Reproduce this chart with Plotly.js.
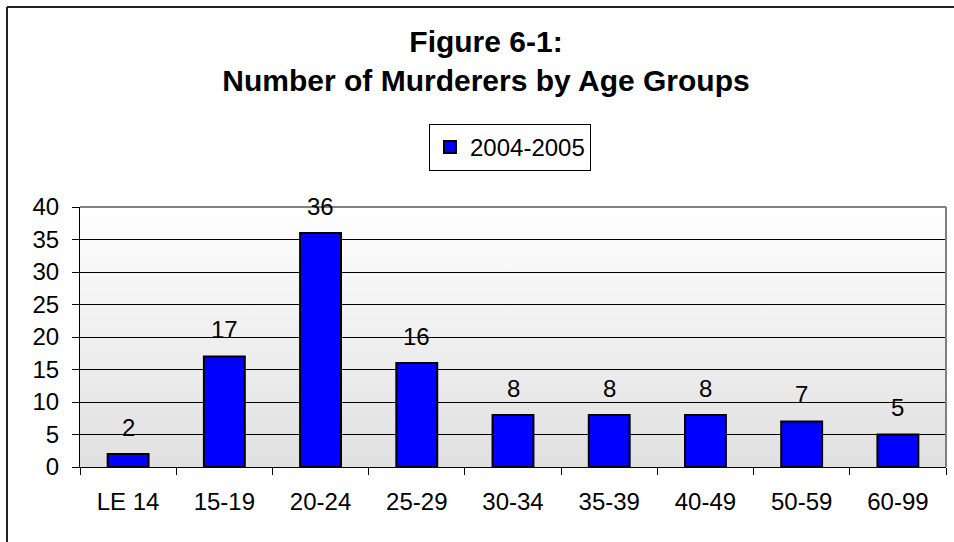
<!DOCTYPE html>
<html>
<head>
<meta charset="utf-8">
<script src="https://cdn.plot.ly/plotly-3.0.1.min.js"></script>
<style>html,body{margin:0;padding:0;background:#fff;}#chart{width:954px;height:542px;}</style>
</head>
<body>
<div id="chart"></div>
<script>
var categories = ["LE 14", "15-19", "20-24", "25-29", "30-34", "35-39", "40-49", "50-59", "60-99"];
var murderers = [2, 17, 36, 16, 8, 8, 8, 7, 5];
var seriesName = "2004-2005";
var yTicks = [0, 5, 10, 15, 20, 25, 30, 35, 40];

var FONT = "Arial, 'Liberation Sans', sans-serif";
var W = 954, H = 542;
var L = 80, R = 946, T = 207, B = 467;

var svg = '<svg xmlns="http://www.w3.org/2000/svg" width="100" height="100" preserveAspectRatio="none">' +
  '<defs><linearGradient id="g" x1="0" y1="0" x2="0" y2="1">' +
  '<stop offset="0" stop-color="#ffffff"/><stop offset="1" stop-color="#e0e0e0"/>' +
  '</linearGradient></defs><rect width="100" height="100" fill="url(#g)"/></svg>';
var bgURI = 'data:image/svg+xml;base64,' + btoa(svg);

var annotations = categories.map(function (c, i) {
  return {
    x: c, y: murderers[i], xref: 'x', yref: 'y',
    text: String(murderers[i]), showarrow: false,
    yanchor: 'middle', yshift: 27,
    font: {family: FONT, size: 24, color: '#000'}
  };
});

var data = [{
  type: 'bar',
  x: categories,
  y: murderers,
  name: seriesName,
  marker: {color: '#0000ff', line: {color: '#000000', width: 2}},
  hoverinfo: 'x+y'
}];

var pw = R - L, ph = B - T;
var layout = {
  width: W, height: H,
  margin: {l: L, r: W - R, t: T, b: H - B, pad: 0},
  paper_bgcolor: '#ffffff',
  plot_bgcolor: 'rgba(0,0,0,0)',
  font: {family: FONT, size: 24, color: '#000'},
  title: {
    text: '<b>Figure 6-1:</b><br><b>Number of Murderers by Age Groups</b>',
    font: {family: FONT, size: 30, color: '#000'},
    xref: 'container', x: 486 / W, xanchor: 'center',
    yref: 'container', y: 1 - 52 / H, yanchor: 'top'
  },
  showlegend: true,
  legend: {
    orientation: 'h',
    x: (510 - L) / pw, xanchor: 'center',
    y: (B - 124) / ph, yanchor: 'top',
    bgcolor: '#ffffff', bordercolor: '#000000', borderwidth: 1,
    font: {family: FONT, size: 24, color: '#000'},
    itemwidth: 30
  },
  bargap: 0.575,
  xaxis: {
    type: 'category',
    showgrid: false,
    showline: true, linecolor: '#000', linewidth: 1,
    ticks: 'outside', tickson: 'boundaries', ticklen: 7, tickcolor: '#000', tickwidth: 1,
    tickfont: {family: FONT, size: 24, color: '#000'},
    ticklabelstandoff: 13,
    fixedrange: true
  },
  yaxis: {
    range: [0, 40],
    tickvals: yTicks,
    showgrid: true, gridcolor: '#000', gridwidth: 1,
    zeroline: false,
    showline: true, linecolor: '#000', linewidth: 1,
    ticks: 'outside', ticklen: 7, tickcolor: '#000', tickwidth: 1,
    tickfont: {family: FONT, size: 24, color: '#000'},
    ticklabelstandoff: 8,
    fixedrange: true
  },
  images: [{
    source: bgURI, xref: 'paper', yref: 'paper',
    x: 0, y: 1, sizex: 1, sizey: 1, sizing: 'stretch',
    xanchor: 'left', yanchor: 'top', layer: 'below'
  }],
  shapes: [
    {type: 'line', xref: 'paper', yref: 'paper', x0: 0, x1: 1, y0: 1, y1: 1,
     line: {color: '#808080', width: 2}, layer: 'above'},
    {type: 'line', xref: 'paper', yref: 'paper', x0: 1, x1: 1, y0: 0, y1: 1,
     line: {color: '#808080', width: 2}, layer: 'above'},
    {type: 'line', xref: 'paper', yref: 'paper',
     x0: (7 - L) / pw, x1: (7 - L) / pw,
     y0: (B - 560) / ph, y1: (B - 7) / ph,
     line: {color: '#222222', width: 2}, layer: 'above'},
    {type: 'line', xref: 'paper', yref: 'paper',
     x0: (7 - L) / pw, x1: (980 - L) / pw,
     y0: (B - 7) / ph, y1: (B - 7) / ph,
     line: {color: '#222222', width: 2}, layer: 'above'}
  ],
  annotations: annotations
};

Plotly.newPlot('chart', data, layout, {displayModeBar: false, staticPlot: true});
</script>
</body>
</html>
